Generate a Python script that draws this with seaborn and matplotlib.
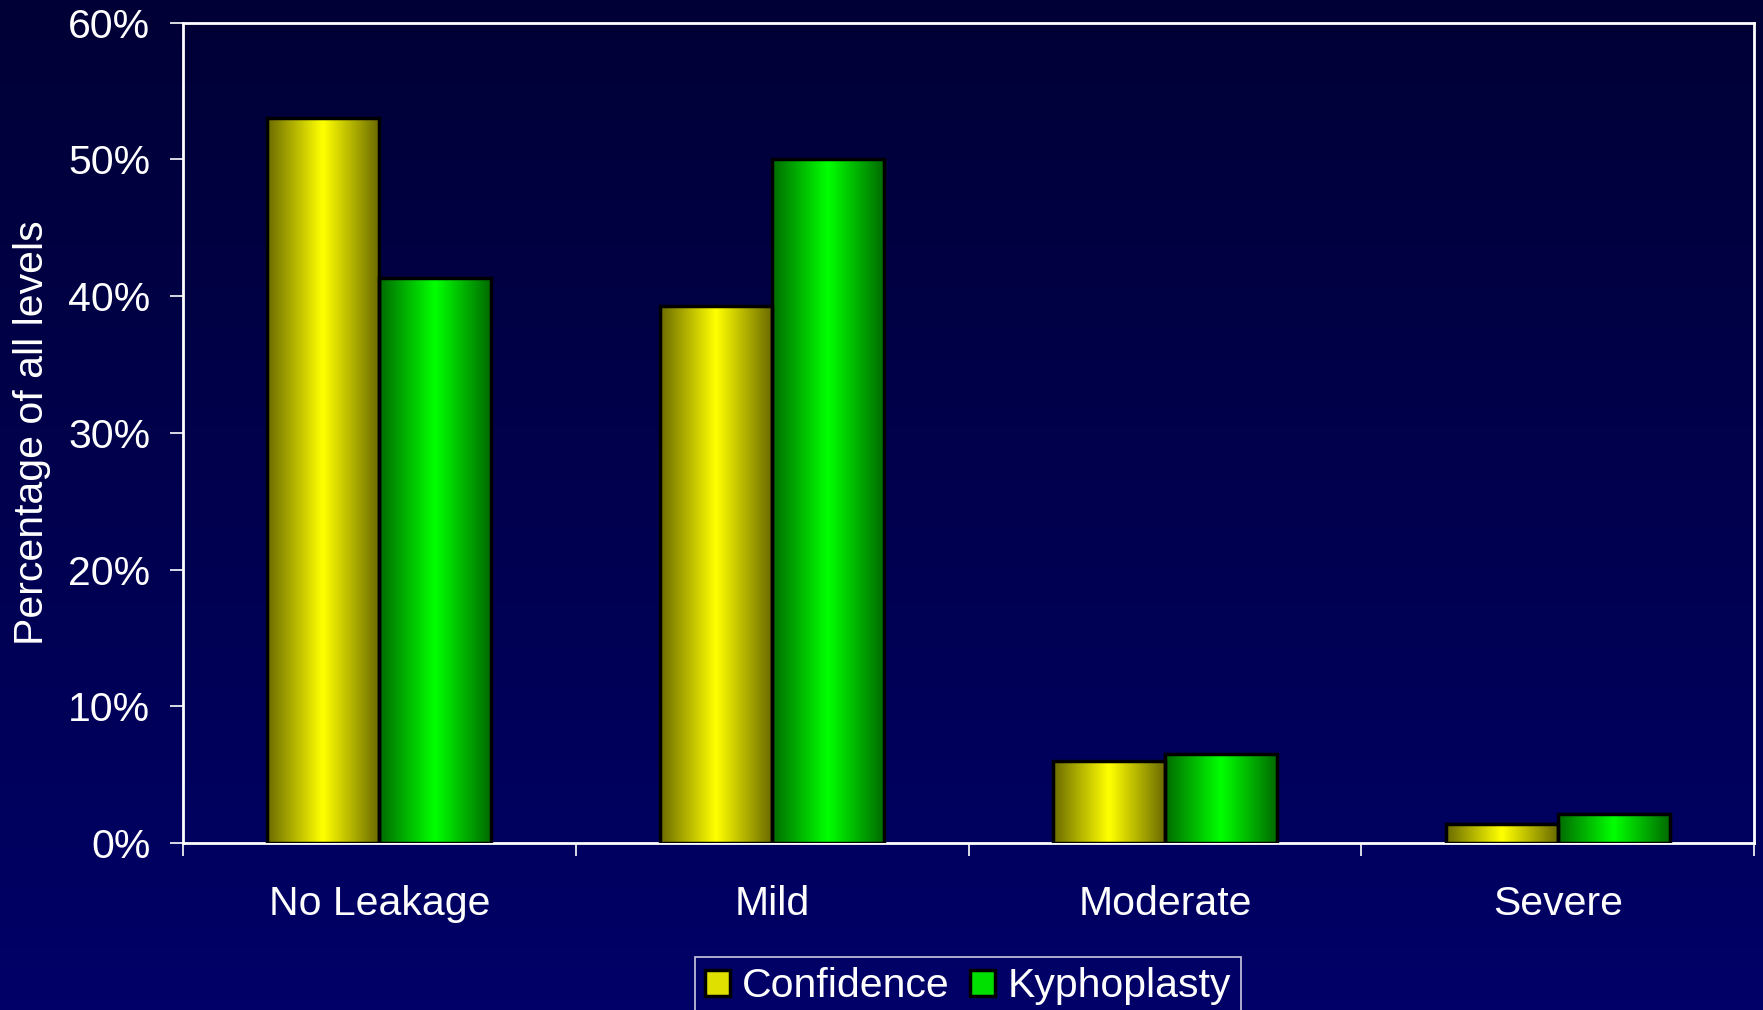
import numpy as np
import pandas as pd
import matplotlib
matplotlib.use('Agg')
import matplotlib.pyplot as plt
from matplotlib.colors import LinearSegmentedColormap
from matplotlib.patches import Patch
import seaborn as sns

# data
categories = ['No Leakage', 'Mild', 'Moderate', 'Severe']
confidence = [53.0, 39.3, 6.0, 1.4]
kyphoplasty = [41.3, 50.0, 6.5, 2.1]
groups = ['Confidence', 'Kyphoplasty']
y_ticks = [0, 10, 20, 30, 40, 50, 60]

df = pd.DataFrame({
    'level': categories * 2,
    'group': [groups[0]] * 4 + [groups[1]] * 4,
    'pct': confidence + kyphoplasty,
})

sns.set_theme(style='white')
plt.rcParams['font.family'] = ['Liberation Sans', 'DejaVu Sans']
plt.rcParams['text.color'] = 'white'

fig = plt.figure(figsize=(17.63, 10.10), dpi=100)

# vertical background gradient (navy)
bg = fig.add_axes([0, 0, 1, 1], zorder=-5)
bg_cmap = LinearSegmentedColormap.from_list('bg', ['#000036', '#000068'])
bg.imshow(np.linspace(0, 1, 256).reshape(-1, 1), aspect='auto', cmap=bg_cmap,
          extent=[0, 1, 0, 1], origin='upper')
bg.set_axis_off()

ax = fig.add_axes([0.1038, 0.1653, 0.8912, 0.8124])
ax.set_facecolor('none')

sns.barplot(data=df, x='level', y='pct', hue='group', order=categories,
            hue_order=groups, palette=['#ffff00', '#00ff00'], width=0.57,
            edgecolor='black', linewidth=2.5, ax=ax, legend=False)

# horizontal shading inside each bar: dark edges, bright centre
shade = np.concatenate([np.linspace(0, 1, 64), np.linspace(1, 0, 64)])
cmaps = {
    0: LinearSegmentedColormap.from_list('y', ['#6b6b00', '#ffff00']),
    1: LinearSegmentedColormap.from_list('g', ['#006b00', '#00ff00']),
}
for i, cont in enumerate(ax.containers):
    for bar in cont:
        x0, w, h = bar.get_x(), bar.get_width(), bar.get_height()
        img = ax.imshow(shade.reshape(1, -1), aspect='auto',
                        cmap=cmaps[i], extent=[x0, x0 + w, 0, h], zorder=2)
        img.set_clip_path(bar)
        bar.set_facecolor('none')
        bar.set_zorder(3)

ax.set_xlim(-0.5, 3.5)
ax.set_ylim(0, 60)
ax.set_yticks(y_ticks)
ax.set_yticklabels([f'{t}%' for t in y_ticks])
ax.set_xticks(range(len(categories)))
ax.set_xticklabels(categories)
ax.set_xticks([-0.5, 0.5, 1.5, 2.5, 3.5], minor=True)
ax.set_xlabel('')
ax.set_ylabel('Percentage of all levels', fontsize=29.5, color='white')
ax.yaxis.set_label_coords(-0.084, 0.5)

ax.tick_params(axis='y', colors='white', labelsize=29.5, length=9.5, width=1.2,
               direction='out', pad=14, left=True)
ax.tick_params(axis='x', which='major', colors='white', labelsize=29.5, length=0, pad=30)
ax.tick_params(axis='x', which='minor', colors='white', length=9.5, width=1.2,
               direction='out', bottom=True)
for s in ax.spines.values():
    s.set_visible(True)
    s.set_color('white')
    s.set_linewidth(2)

handles = [Patch(facecolor='#e0e000', edgecolor='black', linewidth=2.5),
           Patch(facecolor='#00e000', edgecolor='black', linewidth=2.5)]
leg = fig.legend(handles, groups, loc='upper center', bbox_to_anchor=(0.549, 0.0525),
                 ncol=2, fontsize=29.5, frameon=True, fancybox=False, borderaxespad=0,
                 handlelength=0.6, handleheight=0.6, handletextpad=0.3,
                 columnspacing=0.5, borderpad=0.25, labelcolor='white')
leg.get_frame().set_facecolor('none')
leg.get_frame().set_edgecolor('white')
leg.get_frame().set_linewidth(1.2)

fig.savefig('out.png', dpi=100)
